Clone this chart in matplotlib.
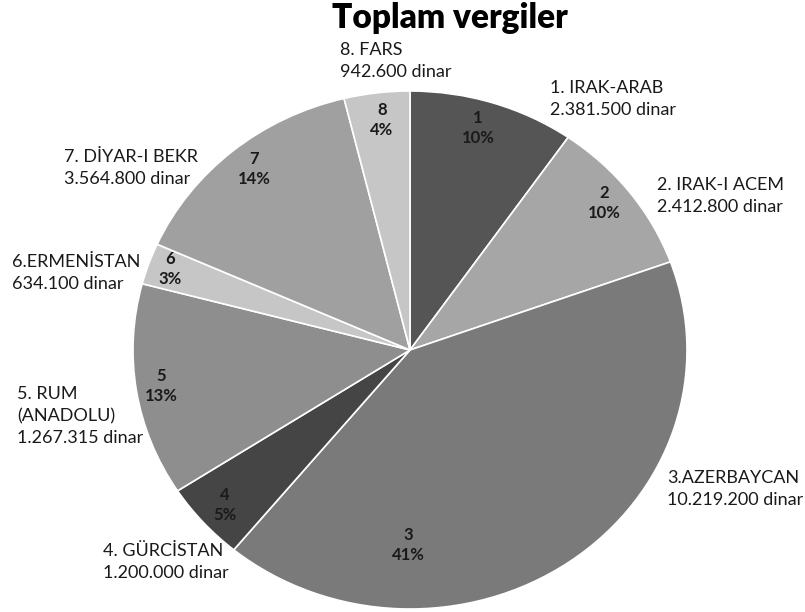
import numpy as np
import matplotlib
matplotlib.use('Agg')
import matplotlib.pyplot as plt

# datos de la torta (orden horario desde las 12)
numeros = ['1', '2', '3', '4', '5', '6', '7', '8']
nombres = ['1. IRAK-ARAB', '2. IRAK-I ACEM', '3.AZERBAYCAN', '4. GÜRCİSTAN',
           '5. RUM\n(ANADOLU)', '6.ERMENİSTAN', '7. DİYAR-I BEKR', '8. FARS']
# el texto de la etiqueta 5 dice 1.267.315, pero la porción dibujada es 13%
valores = [2381500, 2412800, 10219200, 1200000, 3267315, 634100, 3564800, 942600]
textos_valor = ['2.381.500', '2.412.800', '10.219.200', '1.200.000',
                '1.267.315', '634.100', '3.564.800', '942.600']
porcentajes = ['10%', '10%', '41%', '5%', '13%', '3%', '14%', '4%']
grises = ['#555555', '#a6a6a6', '#7a7a7a', '#454545',
          '#8e8e8e', '#c6c6c6', '#a0a0a0', '#c6c6c6']

# posiciones de etiquetas en pixeles de la imagen (x, y centro)
pos_ext = [(550, 99), (657, 196), (667, 489), (103, 562),
           (17, 416), (12, 273), (64, 168), (340, 61)]
pos_int = [(478, 128), (604, 203), (408, 545), (225, 505),
           (161, 386), (170, 269), (254, 169), (382, 120)]

plt.rcParams['font.family'] = ['Lato', 'DejaVu Sans']

W, H = 805, 612
fig = plt.figure(figsize=(W / 100, H / 100), dpi=100)

# eje que cubre exactamente la elipse de la torta
cx, cy, rx, ry = 410, 350, 277, 259
ax = fig.add_axes([(cx - rx) / W, (H - cy - ry) / H, 2 * rx / W, 2 * ry / H])
ax.pie(valores, colors=grises, startangle=90, counterclock=False,
       wedgeprops=dict(edgecolor='white', linewidth=1.2))
ax.set_aspect('auto')
ax.set_xlim(-1, 1)
ax.set_ylim(-1, 1)

for i in range(len(valores)):
    px, py = pos_int[i]
    fig.text(px / W, 1 - py / H, f'{numeros[i]}\n{porcentajes[i]}', ha='center', va='center',
             fontsize=12, fontweight='bold', color='#1a1a1a', linespacing=1.3)
    ex, ey = pos_ext[i]
    fig.text(ex / W, 1 - ey / H, f'{nombres[i]}\n{textos_valor[i]} dinar', ha='left',
             va='center', fontsize=13, color='#1a1a1a', linespacing=1.42)

fig.text(450 / W, 1 - 18 / H, 'Toplam vergiler', ha='center', va='center',
         fontsize=24, fontweight='heavy', color='black')

fig.savefig('out.png', dpi=100, facecolor='white')
